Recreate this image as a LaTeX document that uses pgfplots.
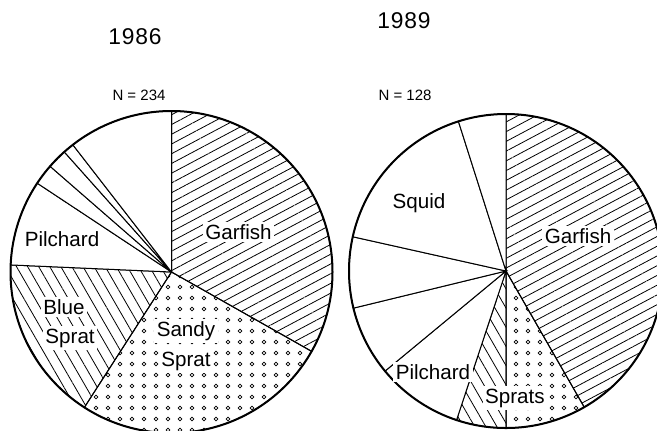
\documentclass[border=0pt]{standalone}
\usepackage{fontspec}
\setmainfont{Liberation Sans}
\usepackage{pgfplots}
\pgfplotsset{compat=1.18}
\usepackage{pgfplotstable}
\usetikzlibrary{patterns,patterns.meta}

\pgfdeclarepatternformonly{rings}{\pgfpoint{-3pt}{-3pt}}{\pgfpoint{3pt}{3pt}}{\pgfpoint{6pt}{5.5pt}}{%
  \pgfsetlinewidth{0.4pt}\pgfpathcircle{\pgfpointorigin}{0.95pt}\pgfusepath{stroke}}

% 1986, N = 234 (percent of diet, clockwise from 12 o'clock)
\pgfplotstableread{
slice pct
Garfish 33.2
SandySprat 25.9
BlueSprat 16.6
Pilchard 8.6
OtherA 2.1
OtherB 2.0
OtherC 1.1
OtherD 10.5
}\pieA

% 1989, N = 128
\pgfplotstableread{
slice pct
Garfish 41.7
SandySprat 8.3
BlueSprat 5.1
Pilchard 8.9
OtherA 7.2
OtherB 7.3
Squid 16.6
OtherC 4.9
}\pieB

\tikzset{
  gar/.style={pattern={Lines[angle=28,distance=4.3pt,line width=0.4pt]}},
  blu/.style={pattern={Lines[angle=-60,distance=4.8pt,line width=0.4pt]}},
  pa0/.style={gar},
  pa1/.style={pattern=rings},
  pa2/.style={blu},
  pa3/.style={fill=white}, pa4/.style={fill=white}, pa5/.style={fill=white},
  pa6/.style={fill=white}, pa7/.style={fill=white},
  pb0/.style={gar},
  pb1/.style={pattern=rings},
  pb2/.style={blu},
  pb3/.style={fill=white}, pb4/.style={fill=white}, pb5/.style={fill=white},
  pb6/.style={fill=white}, pb7/.style={fill=white},
  lab/.style={font=\fontsize{10.3}{12}\selectfont, fill=white, inner sep=1.2pt},
}

\newcommand{\drawpie}[2]{%
  \pgfplotstablegetrowsof{#1}%
  \pgfmathtruncatemacro{\nlast}{\pgfplotsretval-1}%
  \def\cum{90}%
  \pgfplotsforeachungrouped \i in {0,...,\nlast}{%
    \pgfplotstablegetelem{\i}{pct}\of{#1}%
    \pgfmathsetmacro{\nxt}{\cum-3.6*\pgfplotsretval}%
    \edef\tmp{\noexpand\filldraw[draw=black,line width=0.5pt,#2\i] (axis cs:0,0) -- (axis cs:{cos(\cum)},{sin(\cum)}) arc[start angle=\cum,end angle=\nxt,radius=1] -- cycle;}%
    \tmp
    \let\cum\nxt
  }%
  \draw[line width=1pt] (axis cs:0,0) circle[radius=1];
}

\begin{document}
\begin{tikzpicture}
\useasboundingbox (0,0) rectangle (328.5pt,-215pt);
\begin{axis}[
  at={(85.75pt,-136pt)}, anchor=center,
  x=80.5pt, y=80.5pt,
  xmin=-1, xmax=1, ymin=-1, ymax=1,
  hide axis, clip=false,
]
\drawpie{\pieA}{pa}
\node[lab] at (axis cs:0.416,0.248) {Garfish};
\node[lab] at (axis cs:-0.680,0.205) {Pilchard};
\node[lab] at (axis cs:-0.668,-0.217) {Blue};
\node[lab] at (axis cs:-0.630,-0.410) {Sprat};
\node[lab] at (axis cs:0.090,-0.366) {Sandy};
\node[lab] at (axis cs:0.090,-0.553) {Sprat};
\node[font=\fontsize{11.4}{13}\selectfont] at (axis cs:-0.227,1.460) {1\kern0.4pt9\kern0.4pt8\kern0.4pt6};
\node[font=\fontsize{7.5}{9}\selectfont] at (axis cs:-0.202,1.099) {N = 234};
\end{axis}
\begin{axis}[
  at={(253pt,-135.5pt)}, anchor=center,
  x=78.5pt, y=78.5pt,
  xmin=-1, xmax=1, ymin=-1, ymax=1,
  hide axis, clip=false,
]
\drawpie{\pieB}{pb}
\node[lab] at (axis cs:-0.554,0.433) {Squid};
\node[lab] at (axis cs:0.459,0.223) {Garfish};
\node[lab] at (axis cs:-0.465,-0.643) {Pilchard};
\node[lab] at (axis cs:0.057,-0.809) {Sprats};
\node[font=\fontsize{11.4}{13}\selectfont] at (axis cs:-0.650,1.592) {1\kern0.4pt9\kern0.4pt8\kern0.4pt9};
\node[font=\fontsize{7.5}{9}\selectfont] at (axis cs:-0.643,1.121) {N = 128};
\end{axis}
\end{tikzpicture}
\end{document}
